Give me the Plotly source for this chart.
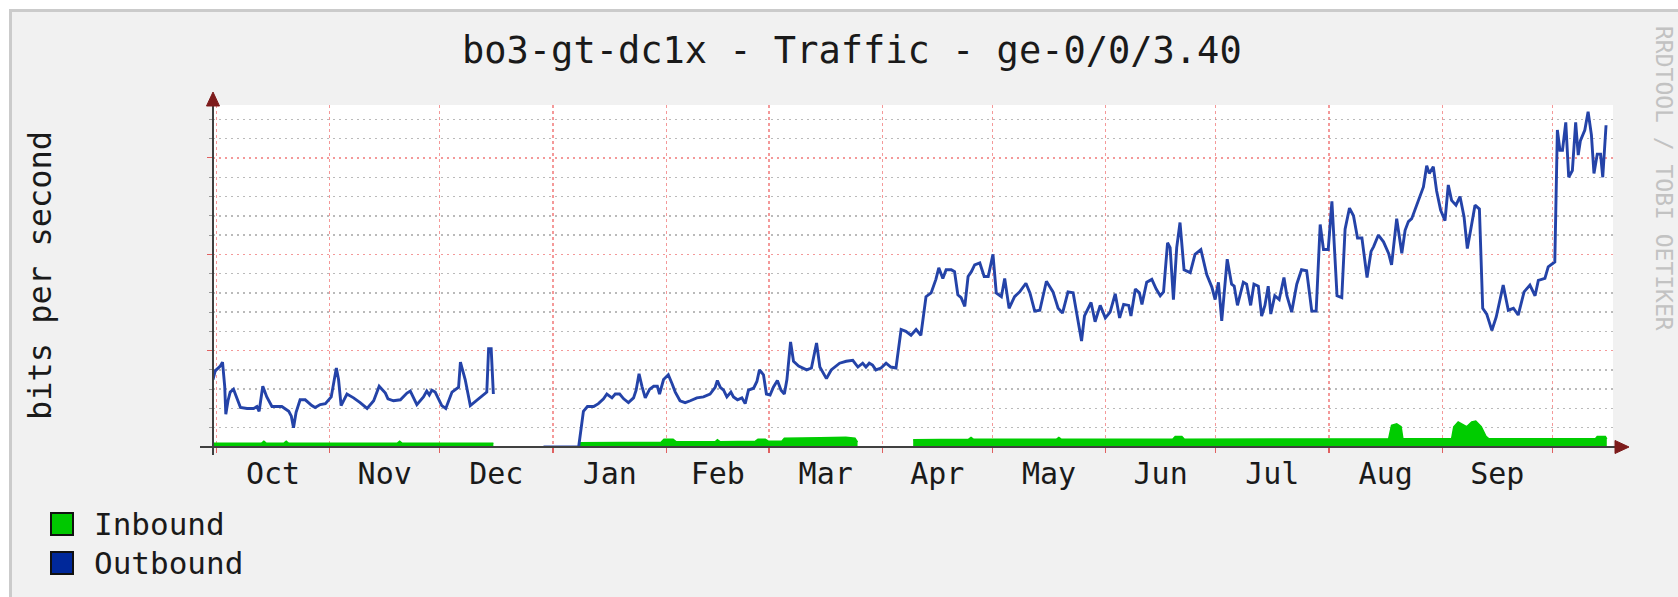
import plotly.graph_objects as go
import pandas as pd

# ---------------- data ----------------
START = pd.Timestamp("2012-10-01")  # day 0

out_days = [-0.9, -0.3, 1.1, 1.7, 2.3, 2.6, 3.2, 3.8, 4.7, 5.9, 6.6, 8.4, 10.2, 11.1, 11.7,
            12.7, 13.8, 15.2, 17.9, 19.8, 20.5, 21.1, 21.8, 22.9, 24.3, 26.1, 27.0, 28.4, 29.8,
            31.4, 32.8, 33.4, 34.1, 35.7, 37.5, 39.3, 41.2, 43.0, 44.5, 46.2, 46.9, 48.4, 50.3,
            52.1, 53.0, 54.8, 56.6, 57.5, 58.2, 58.9, 59.8, 61.6, 62.7, 64.4, 66.2, 66.7, 68.0,
            69.4, 71.2, 73.0, 73.9, 74.4, 75.1, 75.7,
            82.0,
            89.4, 99.0, 100.3, 101.4, 103.1, 104.4, 105.8, 106.7, 108.1, 109.0, 110.2, 111.3,
            112.6, 114.0, 114.7, 115.5, 116.3, 117.2, 118.4, 119.5, 120.5, 121.1, 122.2, 123.5,
            124.5, 125.4, 126.7, 128.1, 129.5, 131.3, 133.1, 134.9, 136.3, 136.9, 137.7, 138.6,
            139.5, 140.6, 141.3, 142.4, 143.6, 144.5, 145.4, 146.8, 147.7, 148.4, 149.5, 150.3,
            151.3, 152.2, 153.3, 154.3, 155.2, 155.9, 156.9, 157.7, 159.1, 161.3, 162.6, 164.0,
            164.9, 166.7, 168.0, 170.3, 172.1, 173.9, 175.3, 176.6, 177.5, 178.4, 179.3, 180.2,
            181.6, 183.0, 184.3, 185.7, 187.1, 188.4, 189.8, 191.2, 192.5, 193.9, 195.3, 196.6,
            197.4, 198.5, 199.4, 200.8, 201.7, 202.6, 203.5, 204.5, 205.4, 206.3, 207.2, 208.6,
            209.8, 210.9, 212.2, 213.1, 214.5, 215.4, 216.6, 218.1, 219.5, 221.2, 222.3, 223.6,
            225.0, 226.8, 228.6, 230.0, 231.2, 232.7, 234.1, 235.4, 236.4, 237.2, 239.0, 240.1,
            241.5, 242.9, 244.2, 245.6, 246.8, 247.9, 249.3, 249.9, 251.1, 252.2, 252.9, 254.2,
            255.6, 256.8, 257.9, 258.8, 259.9, 260.6, 261.5, 262.4, 263.3, 264.4, 266.1, 267.4,
            269.0, 270.6, 272.0, 272.9, 273.8, 274.7, 275.3, 276.2, 277.4, 278.1, 279.0, 280.6,
            281.5, 282.6, 283.5, 284.7, 285.6, 286.5, 287.4, 288.1, 289.2, 290.4, 291.7, 292.5,
            293.8, 295.2, 296.5, 297.9, 299.3, 300.5, 301.6, 302.5, 303.8, 304.8, 306.2, 307.5,
            308.4, 309.6, 310.7, 311.8, 313.0, 314.4, 315.5, 316.2, 317.5, 318.9, 320.3, 321.1,
            322.5, 323.9, 324.8, 325.7, 326.6, 327.5, 328.9, 329.8, 330.7, 331.4, 332.5, 333.4,
            334.5, 335.7, 336.6, 337.5, 338.7, 339.8, 340.9, 341.8, 342.7, 343.9, 345.1, 346.0,
            347.1, 348.5, 349.7, 351.6, 353.0, 354.4, 355.7, 357.3, 358.9, 360.3, 361.2, 363.0,
            363.9, 365.7, 366.4, 367.1, 367.8, 368.7, 369.5, 370.5, 371.4, 372.1, 372.7, 373.9,
            374.8, 375.7, 376.4, 377.3, 378.2, 378.8, 379.7]

out_vals = [0.70, 0.79, 0.84, 0.88, 0.63, 0.34, 0.48, 0.57, 0.60, 0.48, 0.41, 0.40, 0.40, 0.42, 0.37,
            0.63, 0.52, 0.42, 0.42, 0.37, 0.32, 0.20, 0.36, 0.49, 0.49, 0.43, 0.41, 0.44, 0.45,
            0.52, 0.82, 0.70, 0.43, 0.55, 0.51, 0.46, 0.40, 0.48, 0.63, 0.56, 0.50, 0.48, 0.49,
            0.56, 0.58, 0.44, 0.52, 0.58, 0.54, 0.59, 0.57, 0.43, 0.40, 0.57, 0.62, 0.88, 0.70,
            0.43, 0.49, 0.54, 0.57, 1.02, 1.02, 0.55,
            None,
            0.0, 0.0, 0.37, 0.42, 0.42, 0.45, 0.50, 0.55, 0.51, 0.55, 0.55, 0.50,
            0.46, 0.51, 0.59, 0.76, 0.63, 0.51, 0.60, 0.63, 0.63, 0.55, 0.70, 0.75,
            0.66, 0.57, 0.48, 0.46, 0.48, 0.51, 0.52, 0.55, 0.62, 0.69, 0.62, 0.59,
            0.52, 0.57, 0.52, 0.49, 0.51, 0.45, 0.59, 0.61, 0.68, 0.80, 0.75, 0.55,
            0.54, 0.62, 0.69, 0.59, 0.55, 0.70, 1.09, 0.89, 0.84, 0.80, 0.82, 1.08,
            0.83, 0.71, 0.80, 0.87, 0.89, 0.90, 0.83, 0.87, 0.83, 0.87, 0.85, 0.80,
            0.82, 0.87, 0.83, 0.82, 1.22, 1.20, 1.16, 1.22, 1.16, 1.56, 1.60, 1.74,
            1.86, 1.75, 1.84, 1.84, 1.82, 1.58, 1.55, 1.46, 1.77, 1.82, 1.89, 1.91,
            1.77, 1.77, 2.00, 1.60, 1.56, 1.75, 1.44, 1.56, 1.61, 1.70, 1.60, 1.41,
            1.42, 1.72, 1.61, 1.44, 1.39, 1.61, 1.60, 1.32, 1.10, 1.36, 1.50, 1.30,
            1.47, 1.34, 1.40, 1.59, 1.34, 1.48, 1.47, 1.36, 1.64, 1.60, 1.48, 1.71,
            1.74, 1.64, 1.57, 1.61, 2.12, 2.07, 1.53, 2.07, 2.33, 1.84, 1.81, 2.00,
            2.05, 1.79, 1.66, 1.53, 1.71, 1.31, 1.59, 1.95, 1.69, 1.67, 1.47, 1.71,
            1.69, 1.47, 1.69, 1.67, 1.36, 1.47, 1.67, 1.38, 1.57, 1.53, 1.76, 1.57,
            1.40, 1.69, 1.84, 1.83, 1.41, 1.41, 2.31, 2.05, 2.05, 2.55, 1.57, 1.55,
            2.26, 2.48, 2.40, 2.17, 2.17, 1.76, 2.03, 2.08, 2.20, 2.13, 2.01, 1.89,
            2.37, 2.01, 2.25, 2.34, 2.37, 2.46, 2.60, 2.70, 2.92, 2.84, 2.91, 2.66,
            2.46, 2.35, 2.72, 2.56, 2.51, 2.60, 2.39, 2.06, 2.25, 2.51, 2.47, 1.44,
            1.38, 1.21, 1.35, 1.68, 1.42, 1.44, 1.37, 1.61, 1.68, 1.57, 1.73, 1.75,
            1.87, 1.92, 3.29, 3.08, 3.08, 3.37, 2.80, 2.87, 3.37, 3.03, 3.18, 3.29,
            3.48, 3.24, 2.84, 3.04, 3.04, 2.80, 3.34]

in_days = [-0.9, 12.4, 13.0, 13.6, 18.5, 19.1, 19.7, 49.5, 50.1, 50.7, 75.7,
           85.0,
           99.2, 121.5, 122.3, 124.8, 125.6, 136.3, 136.9, 137.6, 147.3, 148.0, 150.0, 150.8,
           154.5, 155.2, 165.0, 172.0, 174.5, 175.2,
           182.0,
           190.4, 205.5, 206.2, 206.9, 229.5, 230.2, 230.9, 261.3, 262.0, 263.8, 264.5, 300.0,
           320.3, 321.1, 322.5, 323.7, 324.2, 337.5, 338.1, 339.3, 340.4, 341.6, 343.0, 344.1,
           345.6, 346.9, 347.7, 376.8, 377.3, 379.5, 379.9]

in_vals = [0.04, 0.04, 0.06, 0.04, 0.04, 0.06, 0.04, 0.04, 0.06, 0.04, 0.04,
           None,
           0.045, 0.05, 0.08, 0.08, 0.055, 0.055, 0.075, 0.055, 0.06, 0.08, 0.08, 0.06,
           0.06, 0.09, 0.095, 0.10, 0.09, 0.05,
           None,
           0.075, 0.08, 0.10, 0.08, 0.08, 0.10, 0.08, 0.08, 0.11, 0.11, 0.08, 0.085,
           0.085, 0.225, 0.24, 0.21, 0.085, 0.085, 0.21, 0.26, 0.24, 0.21, 0.26, 0.27,
           0.21, 0.11, 0.085, 0.085, 0.11, 0.11, 0.085]

month_labels = ["Oct", "Nov", "Dec", "Jan", "Feb", "Mar", "Apr", "May", "Jun", "Jul", "Aug", "Sep"]
series_names = ["Inbound", "Outbound"]
series_colors = ["#00cc00", "#2443a8"]
legend_colors = ["#00c800", "#00289a"]
title_text = "bo3-gt-dc1x - Traffic - ge-0/0/3.40"
ytitle_text = "bits per second"
watermark_text = "RRDTOOL / TOBI OETIKER"

x_start_day, x_end_day = -0.9, 381.6
y_max = 3.55

# ---------------- helpers ----------------
def to_dates(days):
    return [START + pd.Timedelta(days=d) for d in days]

def segments(days, vals):
    segs, cur = [], ([], [])
    for d, v in zip(days, vals):
        if v is None:
            if cur[0]:
                segs.append(cur)
            cur = ([], [])
        else:
            cur[0].append(d)
            cur[1].append(v)
    if cur[0]:
        segs.append(cur)
    return segs

month_starts = list(pd.date_range("2012-10-01", "2013-10-01", freq="MS"))
month_mids = [a + (b - a) / 2 for a, b in zip(month_starts[:-1], month_starts[1:])]

W, H = 1678, 597
L, R, T, B = 213, 65, 105, 150
PW, PH = W - L - R, H - T - B

def px(x):
    return (x - L) / PW

def py(y):
    return (H - B - y) / PH

MONO = "DejaVu Sans Mono"

fig = go.Figure()
for sd, sv in segments(in_days, in_vals):
    fig.add_trace(go.Scatter(
        x=to_dates(sd), y=sv, mode="lines", fill="tozeroy",
        fillcolor=series_colors[0], line=dict(color=series_colors[0], width=1.5),
        name=series_names[0], showlegend=False, hoverinfo="skip"))
fig.add_trace(go.Scatter(
    x=to_dates(out_days), y=out_vals, mode="lines",
    line=dict(color=series_colors[1], width=2.9),
    connectgaps=False, name=series_names[1], showlegend=False, hoverinfo="skip"))

red_grid = "rgba(235,70,70,0.55)"
gray_grid = "rgba(140,140,140,0.6)"

fig.update_layout(
    width=W, height=H,
    margin=dict(l=L, r=R, t=T, b=B, pad=0),
    paper_bgcolor="#f1f1f1", plot_bgcolor="#ffffff",
    showlegend=False,
    font=dict(family=MONO, color="#1a1a1a"),
    xaxis=dict(
        type="date",
        range=[START + pd.Timedelta(days=x_start_day), START + pd.Timedelta(days=x_end_day)],
        tickmode="array", tickvals=month_mids, ticktext=month_labels,
        ticks="", showgrid=False, zeroline=False, showline=False,
        tickfont=dict(family=MONO, size=30, color="#1a1a1a"),
        ticklabelstandoff=6,
        minor=dict(tickmode="array", tickvals=month_starts, showgrid=True,
                   gridcolor=red_grid, gridwidth=1.3, griddash="3px,3px",
                   ticks="outside", ticklen=5, tickcolor="#e06060", tickwidth=1.3),
        fixedrange=True,
    ),
    yaxis=dict(
        range=[0, y_max], tick0=0, dtick=1,
        showgrid=True, gridcolor=red_grid, gridwidth=1.5, griddash="2px,4px",
        showticklabels=False, ticks="outside", ticklen=5, tickcolor="#e06060",
        zeroline=False, showline=False,
        minor=dict(dtick=0.2, showgrid=True, gridcolor=gray_grid, gridwidth=1.5,
                   griddash="2px,4px", ticks="outside", ticklen=3, tickcolor="#999999"),
        fixedrange=True,
    ),
)

shapes = []
# outer frame: white margin + gray shade lines
shapes.append(dict(type="rect", xref="paper", yref="paper", x0=px(0), x1=px(W), y0=py(0), y1=py(9),
                   fillcolor="#ffffff", line=dict(width=0), layer="below"))
shapes.append(dict(type="rect", xref="paper", yref="paper", x0=px(0), x1=px(9), y0=py(0), y1=py(H),
                   fillcolor="#ffffff", line=dict(width=0), layer="below"))
shapes.append(dict(type="line", xref="paper", yref="paper", x0=px(9), x1=px(W), y0=py(10.5), y1=py(10.5),
                   line=dict(color="#cbcbcb", width=3), layer="below"))
shapes.append(dict(type="line", xref="paper", yref="paper", x0=px(10.5), x1=px(10.5), y0=py(9), y1=py(H),
                   line=dict(color="#cbcbcb", width=3), layer="below"))
# axes
shapes.append(dict(type="line", xref="paper", yref="paper", x0=px(200), x1=px(1616), y0=py(447), y1=py(447),
                   line=dict(color="#404040", width=2)))
shapes.append(dict(type="line", xref="paper", yref="paper", x0=px(213), x1=px(213), y0=py(455), y1=py(104),
                   line=dict(color="#404040", width=2)))
# arrows
def tri(p):
    pts = " L ".join(f"{px(a):.5f},{py(b):.5f}" for a, b in p)
    return "M " + pts + " Z"

shapes.append(dict(type="path", xref="paper", yref="paper",
                   path=tri([(213, 92), (206.5, 106), (219.5, 106)]),
                   fillcolor="#7d1b1b", line=dict(color="#7d1b1b", width=1)))
shapes.append(dict(type="path", xref="paper", yref="paper",
                   path=tri([(1629, 447), (1615, 440.5), (1615, 453.5)]),
                   fillcolor="#7d1b1b", line=dict(color="#7d1b1b", width=1)))
# legend squares
leg_y = [524, 563]
for i in range(2):
    shapes.append(dict(type="rect", xref="paper", yref="paper",
                       x0=px(51), x1=px(73), y0=py(leg_y[i] + 11), y1=py(leg_y[i] - 11),
                       fillcolor=legend_colors[i], line=dict(color="#111111", width=2)))
fig.update_layout(shapes=shapes)

ann = []
ann.append(dict(text=title_text, xref="paper", yref="paper", x=px(852), y=py(50),
                xanchor="center", yanchor="middle", showarrow=False,
                font=dict(family=MONO, size=37, color="#1a1a1a")))
ann.append(dict(text=ytitle_text, xref="paper", yref="paper", x=px(40), y=py(276),
                xanchor="center", yanchor="middle", showarrow=False, textangle=-90,
                font=dict(family=MONO, size=32, color="#1a1a1a")))
ann.append(dict(text=watermark_text, xref="paper", yref="paper", x=px(1664), y=py(178),
                xanchor="center", yanchor="middle", showarrow=False, textangle=90,
                font=dict(family=MONO, size=23, color="#c2c2c2")))
for i in range(2):
    ann.append(dict(text=series_names[i], xref="paper", yref="paper", x=px(92), y=py(leg_y[i]),
                    xanchor="left", yanchor="middle", showarrow=False,
                    font=dict(family=MONO, size=31, color="#1a1a1a")))
fig.update_layout(annotations=ann)

fig.write_html("out.html", config={"displayModeBar": False, "staticPlot": True},
               post_script="document.body.style.margin='0px';document.body.style.overflow='hidden';")
